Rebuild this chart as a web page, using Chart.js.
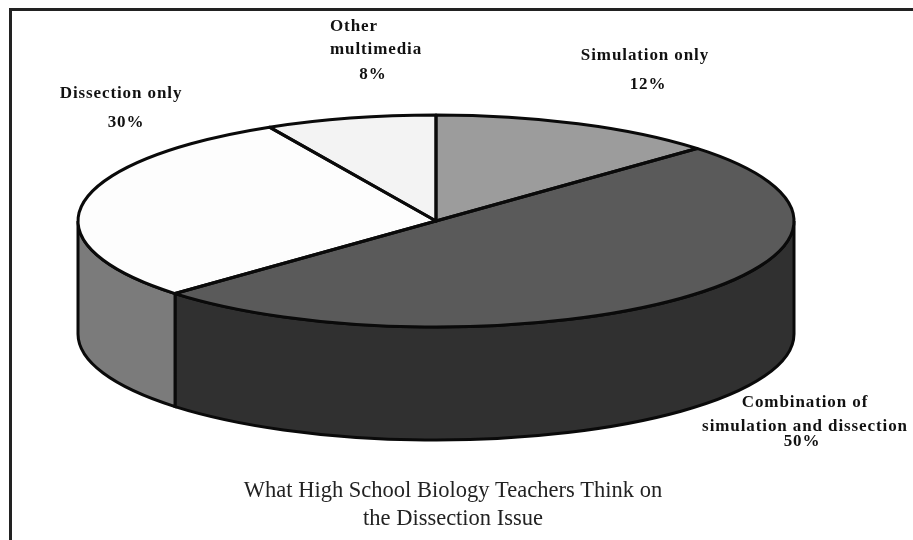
<!DOCTYPE html>
<html>
<head>
<meta charset="utf-8">
<title>What High School Biology Teachers Think on the Dissection Issue</title>
<script src="https://cdn.jsdelivr.net/npm/chart.js@4/dist/chart.umd.min.js"></script>
<style>
    html, body { margin: 0; padding: 0; background: #fff; }
    canvas { display: block; }
</style>
</head>
<body>
<canvas id="chart" width="913" height="540"></canvas>
<script>
const categories = ["Simulation only", "Combination of simulation and dissection", "Dissection only", "Other multimedia"];
// Slice sizes as they are drawn in the picture, the printed labels are rounded differently
const sliceShares = [13, 50, 29.3, 7.7];
const printedPercents = ["12%", "50%", "30%", "8%"];
const captionLines = ["What High School Biology Teachers Think on", "the Dissection Issue"];

const topColors = ["#9c9c9c", "#5a5a5a", "#fdfdfd", "#f3f3f3"];
const wallColors = ["#6e6e6e", "#303030", "#7b7b7b", "#b5b5b5"];

// Pie tilt: the round pie from Chart.js is squashed to this ellipse
const radiusX = 358;
const radiusY = 106;
const wallDepth = 113;
const outline = "#0a0a0a";

function sliceLabels() {
    return [
        { text: "Simulation only", x: 645, y: 60 },
        { text: printedPercents[0], x: 648, y: 89 },
        { text: "Combination of", x: 805, y: 407 },
        { text: "simulation and dissection", x: 805, y: 431 },
        { text: printedPercents[1], x: 802, y: 446 },
        { text: "Dissection only", x: 121, y: 98 },
        { text: printedPercents[2], x: 126, y: 127 },
        { text: "Other", x: 330, y: 31, align: "left" },
        { text: "multimedia", x: 330, y: 54, align: "left" },
        { text: printedPercents[3], x: 373, y: 79 },
    ];
}

function drawWalls(ctx, arcs) {
    arcs.forEach((arc, i) => {
        // only the part of the rim facing the viewer has a wall
        const from = Math.max(arc.startAngle, 0);
        const to = Math.min(arc.endAngle, Math.PI);
        if (to <= from) return;
        ctx.beginPath();
        ctx.ellipse(arc.x, arc.y, radiusX, radiusY, 0, from, to);
        ctx.ellipse(arc.x, arc.y + wallDepth, radiusX, radiusY, 0, to, from, true);
        ctx.closePath();
        ctx.fillStyle = wallColors[i];
        ctx.fill();
        ctx.lineWidth = 3;
        ctx.strokeStyle = outline;
        ctx.stroke();
    });
}

function strokeSlices(ctx, arcs) {
    ctx.lineWidth = 3;
    ctx.strokeStyle = outline;
    ctx.lineJoin = "round";
    arcs.forEach((arc) => {
        ctx.beginPath();
        ctx.moveTo(arc.x, arc.y);
        ctx.ellipse(arc.x, arc.y, radiusX, radiusY, 0, arc.startAngle, arc.endAngle);
        ctx.closePath();
        ctx.stroke();
    });
}

const tiltedPie = {
    id: "tiltedPie",
    beforeDraw(chart) {
        const ctx = chart.ctx;
        ctx.fillStyle = "#ffffff";
        ctx.fillRect(0, 0, chart.width, chart.height);
        // frame: only top and left survive in the reference
        ctx.fillStyle = "#222222";
        ctx.fillRect(9, 8, chart.width - 9, 3);
        ctx.fillRect(9, 8, 3, chart.height - 8);
    },
    beforeDatasetDraw(chart, args) {
        const ctx = chart.ctx;
        const arcs = args.meta.data;
        drawWalls(ctx, arcs);
        const { x, y, outerRadius } = arcs[0];
        ctx.save();
        ctx.translate(x, y);
        ctx.scale(radiusX / outerRadius, radiusY / outerRadius);
        ctx.translate(-x, -y);
    },
    afterDatasetDraw(chart, args) {
        const ctx = chart.ctx;
        ctx.restore();
        strokeSlices(ctx, args.meta.data);
    },
    afterDraw(chart) {
        const ctx = chart.ctx;
        ctx.save();
        ctx.fillStyle = "#111111";
        ctx.textBaseline = "alphabetic";
        ctx.font = "bold 17px 'Liberation Serif'";
        ctx.letterSpacing = "0.9px";
        sliceLabels().forEach((label) => {
            ctx.textAlign = label.align || "center";
            ctx.fillText(label.text, label.x, label.y);
        });
        ctx.font = "22.5px 'Liberation Serif'";
        ctx.letterSpacing = "0px";
        ctx.textAlign = "center";
        ctx.fillStyle = "#222222";
        ctx.fillText(captionLines[0], 453, 497);
        ctx.fillText(captionLines[1], 453, 525);
        ctx.restore();
    },
};

new Chart(document.getElementById("chart"), {
    type: "pie",
    data: {
        labels: categories,
        datasets: [
            {
                data: sliceShares,
                backgroundColor: topColors,
                borderWidth: 0,
                clip: false,
            },
        ],
    },
    options: {
        responsive: false,
        animation: false,
        // square area centred on the pie's middle at (436, 221)
        layout: { padding: { left: 236, right: 277, top: 21, bottom: 119 } },
        plugins: {
            legend: { display: false },
            tooltip: { enabled: false },
        },
    },
    plugins: [tiltedPie],
});
</script>
</body>
</html>
